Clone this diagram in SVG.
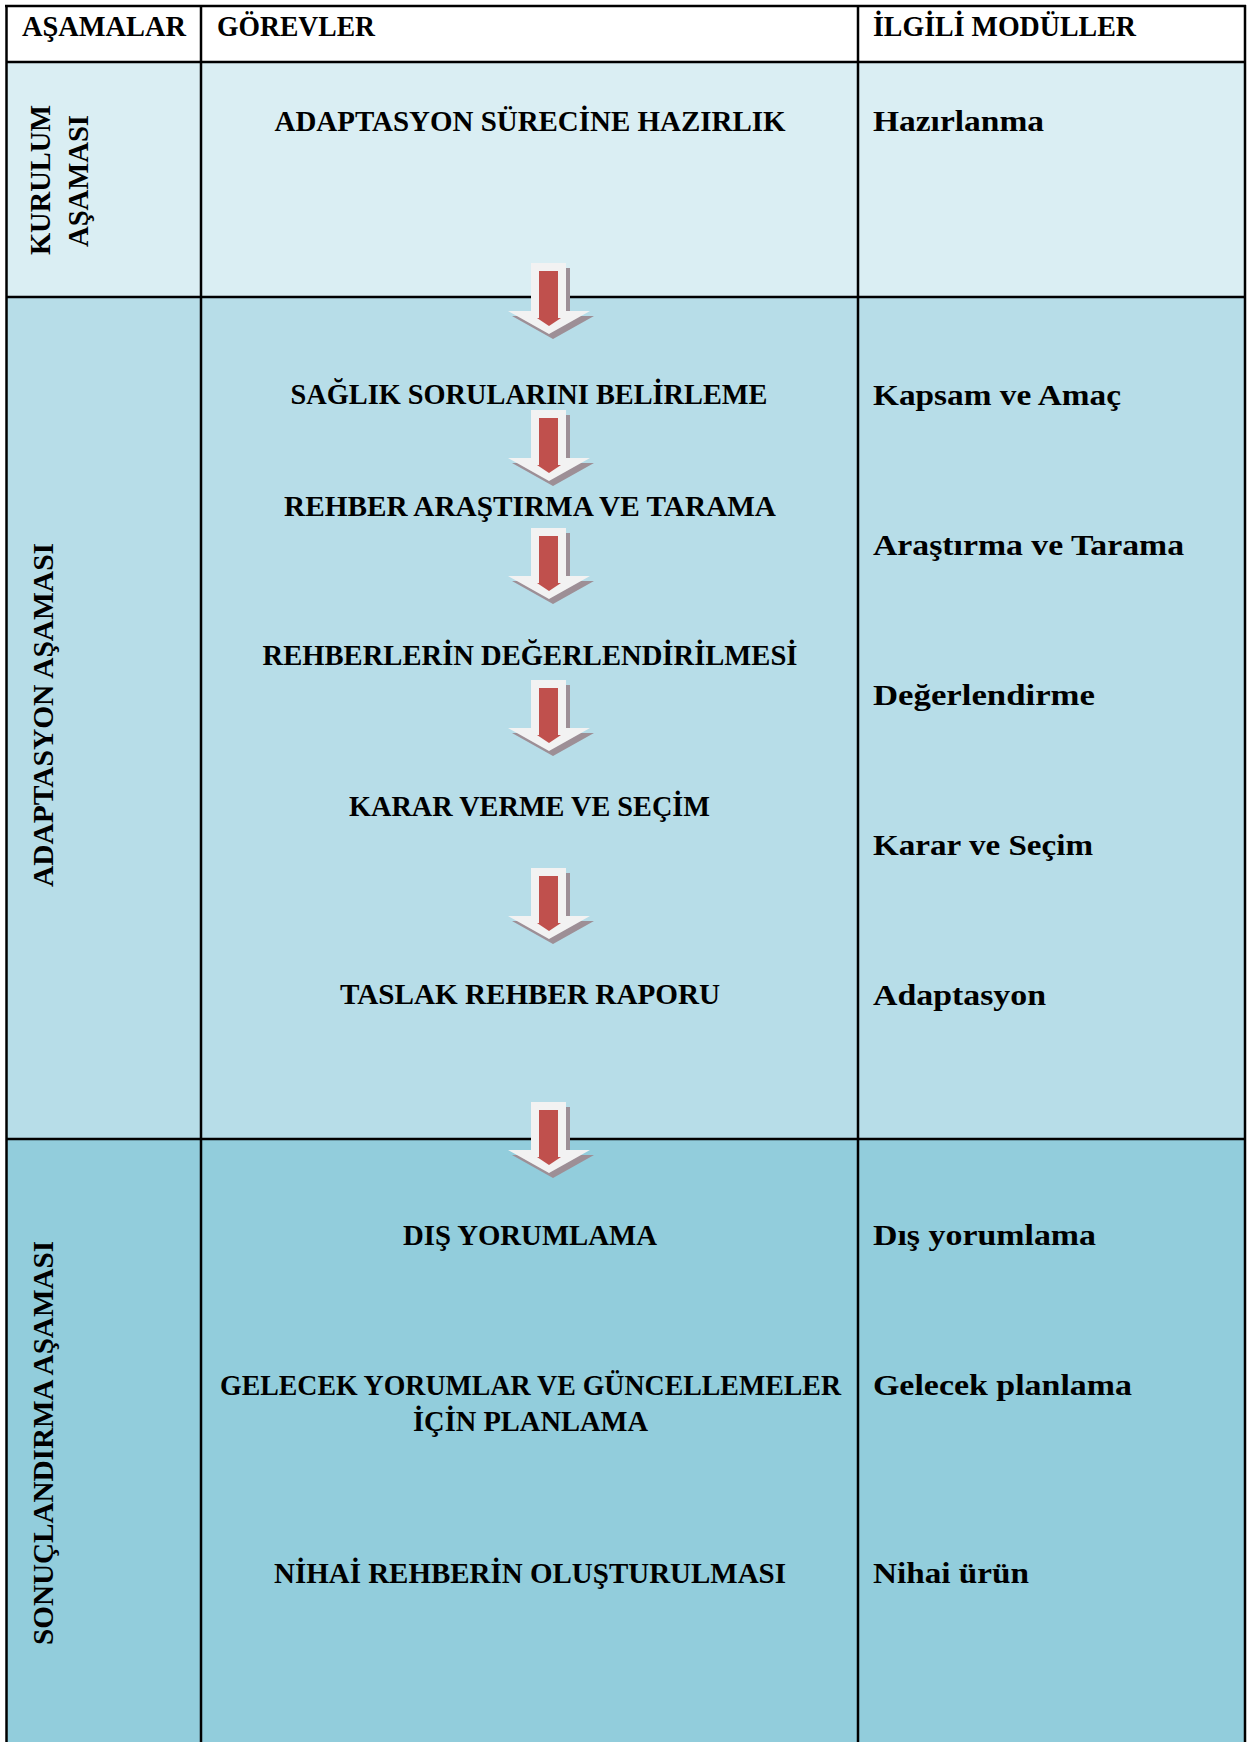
<svg xmlns="http://www.w3.org/2000/svg" xmlns:xlink="http://www.w3.org/1999/xlink" width="1247" height="1742" viewBox="0 0 1247 1742">
  <style>
    .t { font-family: "Liberation Serif", "Times New Roman", serif; font-weight: bold; font-size: 30px; fill: #000; }
    .c { text-anchor: middle; }
    .ln { stroke: #000; stroke-width: 2.5; fill: none; }
  </style>
  <defs>
    <g id="arrow">
      <path d="M531,0 H566 V48 H590 L549,71 L508,48 H531 Z" fill="#9d8f96" transform="translate(4,5)"/>
      <path d="M531,0 H566 V48 H590 L549,71 L508,48 H531 Z" fill="#f2f2f2"/>
      <path d="M539,8 H558 V55 H561 L549,63 L537,55 H539 Z" fill="#c0504d"/>
    </g>
  </defs>

  <g id="backgrounds">
    <rect x="6" y="6" width="1239" height="56" fill="#ffffff"/>
    <rect x="6" y="62" width="1239" height="235" fill="#daeef3"/>
    <rect x="6" y="297" width="1239" height="842" fill="#b7dde8"/>
    <rect x="6" y="1139" width="1239" height="603" fill="#92cddc"/>
  </g>

  <g id="grid">
    <line class="ln" x1="5" y1="6" x2="1246" y2="6"/>
    <line class="ln" x1="6.5" y1="5" x2="6.5" y2="1742"/>
    <line class="ln" x1="1245" y1="5" x2="1245" y2="1742"/>
    <line class="ln" x1="201" y1="6" x2="201" y2="1742"/>
    <line class="ln" x1="858" y1="6" x2="858" y2="1742"/>
    <line class="ln" x1="6" y1="62" x2="1245" y2="62"/>
    <line class="ln" x1="6" y1="297" x2="1245" y2="297"/>
    <line class="ln" x1="6" y1="1139" x2="1245" y2="1139"/>
  </g>

  <g id="header">
    <text class="t" x="22" y="36" textLength="164" lengthAdjust="spacingAndGlyphs">AŞAMALAR</text>
    <text class="t" x="217" y="36" textLength="158" lengthAdjust="spacingAndGlyphs">GÖREVLER</text>
    <text class="t" x="873" y="36" textLength="263" lengthAdjust="spacingAndGlyphs">İLGİLİ MODÜLLER</text>
  </g>

  <g id="phase-kurulum">
    <text class="t c" transform="translate(50,180) rotate(-90)" textLength="150" lengthAdjust="spacingAndGlyphs">KURULUM</text>
    <text class="t c" transform="translate(88,181) rotate(-90)" textLength="132" lengthAdjust="spacingAndGlyphs">AŞAMASI</text>
  </g>
  <g id="phase-adaptasyon">
    <text class="t c" transform="translate(53,715) rotate(-90)" textLength="344" lengthAdjust="spacingAndGlyphs">ADAPTASYON AŞAMASI</text>
  </g>
  <g id="phase-sonuclandirma">
    <text class="t c" transform="translate(53,1443) rotate(-90)" textLength="404" lengthAdjust="spacingAndGlyphs">SONUÇLANDIRMA  AŞAMASI</text>
  </g>

  <g id="task-hazirlik"><text class="t c" x="530" y="131" textLength="511" lengthAdjust="spacingAndGlyphs">ADAPTASYON SÜRECİNE HAZIRLIK</text></g>
  <g id="task-saglik"><text class="t c" x="529" y="404" textLength="477" lengthAdjust="spacingAndGlyphs">SAĞLIK SORULARINI BELİRLEME</text></g>
  <g id="task-arastirma"><text class="t c" x="530" y="516" textLength="492" lengthAdjust="spacingAndGlyphs">REHBER ARAŞTIRMA VE TARAMA</text></g>
  <g id="task-degerlendirme"><text class="t c" x="530" y="665" textLength="535" lengthAdjust="spacingAndGlyphs">REHBERLERİN DEĞERLENDİRİLMESİ</text></g>
  <g id="task-karar"><text class="t c" x="529.5" y="816" textLength="361" lengthAdjust="spacingAndGlyphs">KARAR VERME VE SEÇİM</text></g>
  <g id="task-taslak"><text class="t c" x="530" y="1004" textLength="380" lengthAdjust="spacingAndGlyphs">TASLAK REHBER RAPORU</text></g>
  <g id="task-dis"><text class="t c" x="530" y="1245" textLength="254" lengthAdjust="spacingAndGlyphs">DIŞ YORUMLAMA</text></g>
  <g id="task-gelecek">
    <text class="t c" x="530.5" y="1395" textLength="621" lengthAdjust="spacingAndGlyphs">GELECEK YORUMLAR VE GÜNCELLEMELER</text>
    <text class="t c" x="530.5" y="1431" textLength="235" lengthAdjust="spacingAndGlyphs">İÇİN PLANLAMA</text>
  </g>
  <g id="task-nihai"><text class="t c" x="530" y="1583" textLength="512" lengthAdjust="spacingAndGlyphs">NİHAİ REHBERİN OLUŞTURULMASI</text></g>

  <g id="module-hazirlanma"><text class="t" x="873" y="131" textLength="171" lengthAdjust="spacingAndGlyphs">Hazırlanma</text></g>
  <g id="module-kapsam"><text class="t" x="873" y="405" textLength="248" lengthAdjust="spacingAndGlyphs">Kapsam ve Amaç</text></g>
  <g id="module-arastirma"><text class="t" x="873" y="555" textLength="311" lengthAdjust="spacingAndGlyphs">Araştırma ve Tarama</text></g>
  <g id="module-degerlendirme"><text class="t" x="873" y="705" textLength="222" lengthAdjust="spacingAndGlyphs">Değerlendirme</text></g>
  <g id="module-karar"><text class="t" x="873" y="855" textLength="220" lengthAdjust="spacingAndGlyphs">Karar ve Seçim</text></g>
  <g id="module-adaptasyon"><text class="t" x="873" y="1005" textLength="173" lengthAdjust="spacingAndGlyphs">Adaptasyon</text></g>
  <g id="module-dis"><text class="t" x="873" y="1245" textLength="223" lengthAdjust="spacingAndGlyphs">Dış yorumlama</text></g>
  <g id="module-gelecek"><text class="t" x="873" y="1395" textLength="259" lengthAdjust="spacingAndGlyphs">Gelecek planlama</text></g>
  <g id="module-nihai"><text class="t" x="873" y="1583" textLength="156" lengthAdjust="spacingAndGlyphs">Nihai ürün</text></g>

  <g id="connectors">
    <use xlink:href="#arrow" transform="translate(0,263)"/>
    <use xlink:href="#arrow" transform="translate(0,410)"/>
    <use xlink:href="#arrow" transform="translate(0,528)"/>
    <use xlink:href="#arrow" transform="translate(0,680)"/>
    <use xlink:href="#arrow" transform="translate(0,868)"/>
    <use xlink:href="#arrow" transform="translate(0,1102)"/>
  </g>
</svg>
